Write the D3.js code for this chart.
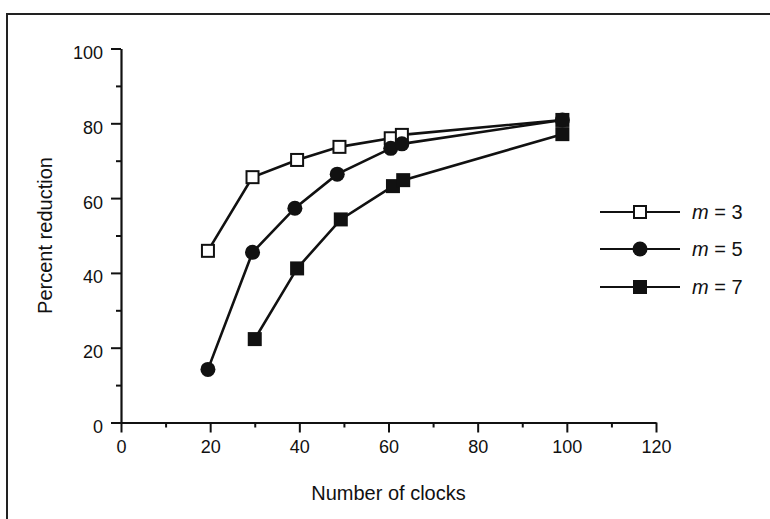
<!DOCTYPE html>
<html lang="en">
<head>
<meta charset="UTF-8">
<title>Percent reduction vs number of clocks</title>
<script src="https://d3js.org/d3.v7.min.js"></script>
<style>
  body { margin: 0; background: #fff; }
  svg { display: block; font-family: "Liberation Sans", Arial, Helvetica, sans-serif; }
</style>
</head>
<body>
<svg id="chart" width="770" height="519"></svg>
<script>
// data
const seriesNames = ["m = 3", "m = 5", "m = 7"];
const m3X = [19.5, 29.5, 39.5, 49, 60.5, 63, 99];
const m3Y = [45.9, 65.6, 70.2, 73.7, 76, 76.9, 80.9];
const m5X = [19.5, 29.5, 39, 48.5, 60.5, 63, 99];
const m5Y = [14.2, 45.5, 57.3, 66.4, 73.3, 74.5, 80.9];
const m7X = [30, 39.5, 49.3, 61, 63.3, 99];
const m7Y = [22.3, 41.2, 54.3, 63.2, 64.8, 77.1];
const xTicks = [0, 20, 40, 60, 80, 100, 120];
const yTicks = [0, 20, 40, 60, 80, 100];

const svg = d3.select("#chart");

// scanned frame (left + top edges)
svg.append("path")
  .attr("d", "M7,519 V14 H770")
  .attr("fill", "none")
  .attr("stroke", "#222")
  .attr("stroke-width", 2);

const x = d3.scaleLinear().domain([0, 120]).range([121, 656]);
const y = d3.scaleLinear().domain([0, 100]).range([422.5, 48.5]);

const ink = "#111";

// axes
const xAxis = svg.append("g").attr("transform", `translate(0,${y(0)})`)
  .call(d3.axisBottom(x).tickValues(xTicks).tickSize(10).tickPadding(8).tickSizeOuter(0));
const xMinor = svg.append("g").attr("transform", `translate(0,${y(0)})`)
  .call(d3.axisBottom(x).tickValues(d3.range(10, 120, 20)).tickSize(5).tickFormat("").tickSizeOuter(0));
const yAxis = svg.append("g").attr("transform", `translate(${x(0)},0)`)
  .call(d3.axisLeft(y).tickValues(yTicks).tickSize(10).tickPadding(8).tickSizeOuter(0));
const yMinor = svg.append("g").attr("transform", `translate(${x(0)},0)`)
  .call(d3.axisLeft(y).tickValues(d3.range(10, 100, 20)).tickSize(5).tickFormat("").tickSizeOuter(0));

[xAxis, xMinor, yAxis, yMinor].forEach(a => {
  a.select(".domain").attr("stroke", ink).attr("stroke-width", 2.2);
  a.selectAll(".tick line").attr("stroke", ink).attr("stroke-width", 2);
  a.selectAll(".tick text").attr("fill", ink).style("font-size", "18px");
});
xMinor.select(".domain").remove();
yMinor.select(".domain").remove();
yAxis.selectAll(".tick text").attr("dy", "0.55em");

// axis titles
svg.append("text")
  .attr("x", (x(0) + x(120)) / 2).attr("y", 500)
  .attr("text-anchor", "middle")
  .attr("fill", ink).style("font-size", "20px")
  .text("Number of clocks");

svg.append("text")
  .attr("transform", `translate(52,${(y(0) + y(100)) / 2}) rotate(-90)`)
  .attr("text-anchor", "middle")
  .attr("fill", ink).style("font-size", "20px")
  .text("Percent reduction");

// series
const series = [
  { name: seriesNames[0], pts: m3X.map((v, i) => [v, m3Y[i]]), shape: "openSquare" },
  { name: seriesNames[1], pts: m5X.map((v, i) => [v, m5Y[i]]), shape: "circle" },
  { name: seriesNames[2], pts: m7X.map((v, i) => [v, m7Y[i]]), shape: "square" }
];

const line = d3.line().x(d => x(d[0])).y(d => y(d[1]));

function marker(g, shape, cx, cy) {
  if (shape === "circle") {
    g.append("circle").attr("cx", cx).attr("cy", cy).attr("r", 7.5).attr("fill", ink);
  } else if (shape === "square") {
    g.append("rect").attr("x", cx - 7).attr("y", cy - 7).attr("width", 14).attr("height", 14).attr("fill", ink);
  } else {
    g.append("rect").attr("x", cx - 6).attr("y", cy - 6).attr("width", 12).attr("height", 12)
      .attr("fill", "#fff").attr("stroke", ink).attr("stroke-width", 2);
  }
}

series.forEach(s => {
  svg.append("path").datum(s.pts)
    .attr("d", line).attr("fill", "none")
    .attr("stroke", ink).attr("stroke-width", 2.6);
});
series.forEach(s => {
  const g = svg.append("g");
  s.pts.forEach(p => marker(g, s.shape, x(p[0]), y(p[1])));
});

// legend
const legendY = [212, 249, 287];
series.forEach((s, i) => {
  const g = svg.append("g");
  g.append("line").attr("x1", 600).attr("x2", 680)
    .attr("y1", legendY[i]).attr("y2", legendY[i])
    .attr("stroke", ink).attr("stroke-width", 2);
  marker(g, s.shape, 640, legendY[i]);
  const t = g.append("text").attr("x", 692).attr("y", legendY[i]).attr("dy", "0.36em")
    .attr("fill", ink).style("font-size", "20px");
  const parts = s.name.split(" ");
  t.append("tspan").style("font-style", "italic").text(parts[0]);
  t.append("tspan").text(" " + parts.slice(1).join(" "));
});
</script>
</body>
</html>
